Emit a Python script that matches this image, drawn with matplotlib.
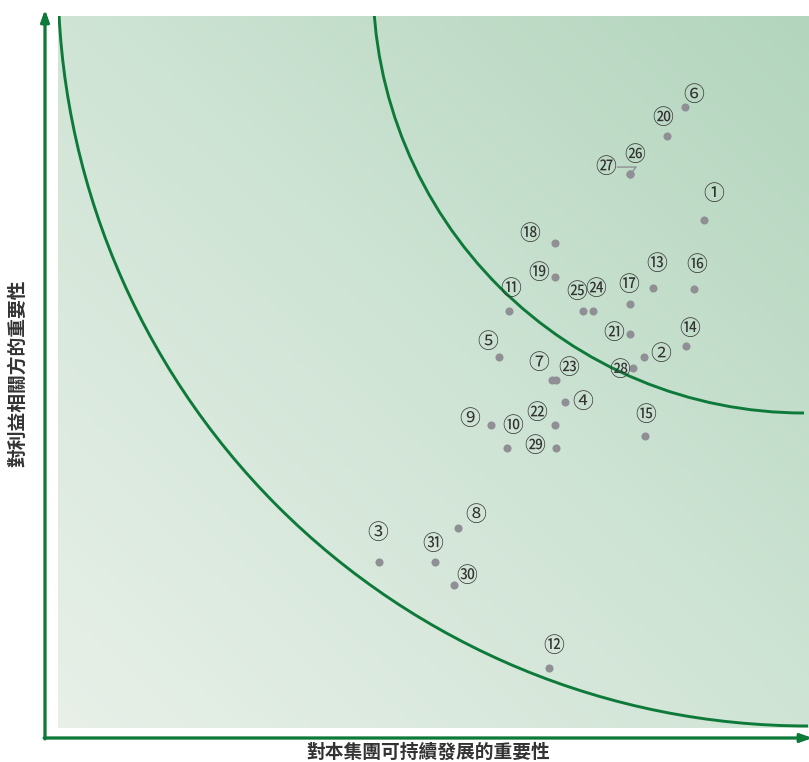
import matplotlib.pyplot as plt
import numpy as np
from matplotlib.patches import Arc
from matplotlib.colors import LinearSegmentedColormap

plt.rcParams['font.family'] = ['Noto Sans CJK TC', 'DejaVu Sans']


# %% Data: issue number, importance to group (x), importance to stakeholders (y)

issue_ids = list(range(1, 32))
group_score = [8.60, 7.80, 4.27, 6.75, 5.87, 8.35, 6.58, 5.33, 5.77, 5.98,
               6.01, 6.54, 7.92, 8.36, 7.82, 8.47, 7.62, 6.62, 6.62, 8.11,
               7.62, 6.62, 6.63, 7.12, 6.99, 7.62, 7.62, 7.66, 6.63, 5.27,
               5.02]
stakeholder_score = [7.13, 5.21, 2.33, 4.58, 5.21, 8.72, 4.89, 2.81, 4.26, 3.93,
                     5.86, 0.84, 6.18, 5.37, 4.10, 6.17, 5.96, 6.81, 6.33, 8.31,
                     5.53, 4.26, 4.89, 5.86, 5.86, 7.78, 7.78, 5.06, 3.93, 2.01,
                     2.33]

# label offsets from the dot, in pixels (dx, dy with y up)
label_offsets = [(10, 26), (17, 3), (-1, 29), (18, 0), (-11, 15), (9, 12),
                 (-13, 17), (17, 13), (-22, 6), (6, 22), (1, 22), (5, 22),
                 (4, 24), (4, 17), (0, 21), (3, 24), (-2, 19), (-25, 9),
                 (-16, 4), (-4, 18), (-17, 1), (-18, 12), (13, 12), (3, 22),
                 (-6, 19), (4, 19), (-25, 7), (-14, -2), (-21, 2), (13, 9),
                 (-2, 18)]


def circled(n):
    # unicode circled numbers
    if n <= 20:
        return chr(0x2460 + n - 1)
    return chr(0x3251 + n - 21)


# %% Figure and axes

fig = plt.figure(figsize=(8.09, 7.62), dpi=100)
W, H = 809, 762
ax = fig.add_axes([58 / W, (H - 728) / H, (809 - 58) / W, (728 - 16) / H])
ax.set_xlim(0, 10)
ax.set_ylim(0, 10)
ax.axis('off')

# background gradient, light bottom-left to green top-right
gx, gy = np.meshgrid(np.linspace(0, 1, 300), np.linspace(0, 1, 300))
grad = (gx + gy) / 2
cmap = LinearSegmentedColormap.from_list('bg', ['#e8f0e8', '#cfe4d5', '#b3d5bd'])
ax.imshow(grad, extent=[0, 10, 0, 10], origin='lower', cmap=cmap,
          aspect='auto', zorder=0)

# two arcs (circles in pixel space, centred just above the top-right corner)
px_x, px_y = 75.1, 71.2
green = '#0e7a3a'
for cxp, cyp, r in [(808, -24, 750), (804, -18, 431)]:
    cx = (cxp - 58) / px_x
    cy = (728 - cyp) / px_y
    ax.add_patch(Arc((cx, cy), 2 * r / px_x, 2 * r / px_y, theta1=180,
                     theta2=270, color=green, lw=2.1, zorder=2))

# points
ax.scatter(group_score, stakeholder_score, s=34, color='#8f8f95',
           zorder=4, linewidths=0, clip_on=False)

for n, xv, yv, (dx, dy) in zip(issue_ids, group_score, stakeholder_score,
                               label_offsets):
    ax.annotate(circled(n), (xv, yv), xytext=(dx, dy),
                textcoords='offset pixels', ha='center', va='center',
                fontsize=15, color='#333333', zorder=5)

# leader line for issue 27
ax.annotate('', xy=(group_score[26], stakeholder_score[26]),
            xytext=(-13, 7), textcoords='offset pixels',
            arrowprops=dict(arrowstyle='-', color='#8f8f95', lw=1,
                            connectionstyle='angle,angleA=0,angleB=50,rad=0',
                            shrinkA=0, shrinkB=2), zorder=3)

# %% Axis arrows and titles

arrow = dict(arrowstyle='-|>,head_length=0.7,head_width=0.25', color=green,
             lw=2, shrinkA=0, shrinkB=0)
fig.add_artist(plt.annotate('', xy=(45 / W, (H - 10) / H),
                            xytext=(45 / W, (H - 739) / H),
                            xycoords='figure fraction', arrowprops=arrow))
fig.add_artist(plt.annotate('', xy=(812 / W, (H - 738) / H),
                            xytext=(44 / W, (H - 738) / H),
                            xycoords='figure fraction', arrowprops=arrow))

fig.text(428 / W, (H - 752) / H, '對本集團可持續發展的重要性', ha='center',
         va='center', fontsize=13.5, color='#333333', fontweight='bold')
fig.text(18 / W, (H - 373) / H, '對利益相關方的重要性', ha='center',
         va='center', fontsize=13.5, color='#333333', rotation=90,
         fontweight='bold')

plt.savefig('out.png', dpi=100)
